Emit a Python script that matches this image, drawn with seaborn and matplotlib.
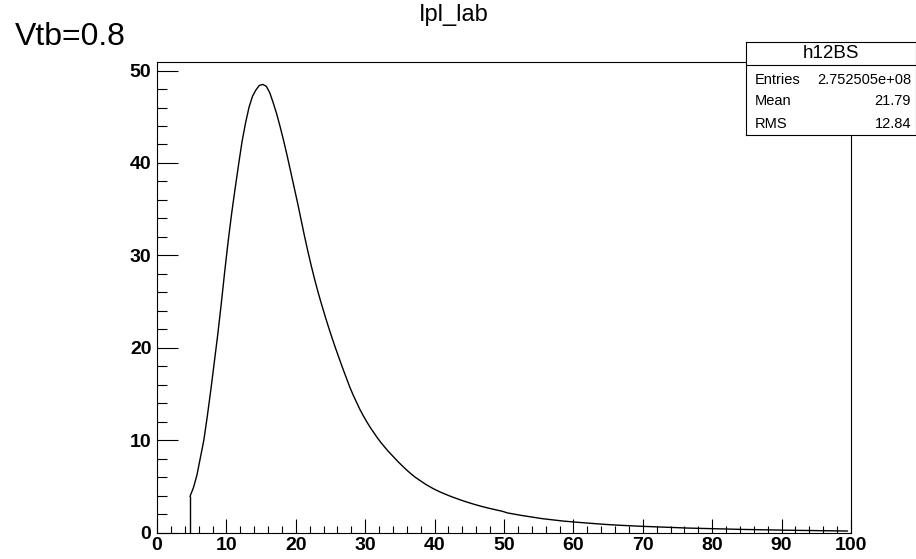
import numpy as np
import pandas as pd
import matplotlib
matplotlib.use('Agg')
import matplotlib.pyplot as plt
from matplotlib.ticker import MultipleLocator
import seaborn as sns

# histogram contents
# 0.5-wide bins from 4.5 to 50
fine_counts = [3.9, 4.85, 6.2, 8.1, 10.0, 12.6, 15.4, 18.4, 21.4, 24.7,
               28.2, 31.5, 34.5, 37.2, 39.8, 42.3, 44.3, 46.0, 47.2, 47.9,
               48.4, 48.5, 48.3, 47.6, 46.5, 45.3, 43.9, 42.4, 40.8, 39.1,
               37.4, 35.7, 33.9, 32.1, 30.4, 28.8, 27.3, 25.9, 24.6, 23.35,
               22.15, 21.0, 19.9, 18.85, 17.8, 16.8, 15.8, 14.9, 14.1, 13.3,
               12.6, 11.95, 11.35, 10.8, 10.25, 9.75, 9.3, 8.85, 8.45, 8.05,
               7.65, 7.28, 6.92, 6.58, 6.26, 5.96, 5.7, 5.45, 5.2, 4.98,
               4.77, 4.58, 4.4, 4.24, 4.08, 3.93, 3.79, 3.65, 3.52, 3.39,
               3.27, 3.15, 3.04, 2.93, 2.83, 2.73, 2.64, 2.55, 2.46, 2.38,
               2.3]
# 1-wide bins from 50 to 100
tail_counts = [2.12, 1.98, 1.85, 1.73, 1.61, 1.50, 1.41, 1.32, 1.24, 1.17,
               1.11, 1.05, 0.99, 0.93, 0.88, 0.83, 0.79, 0.75, 0.71, 0.68,
               0.65, 0.62, 0.59, 0.56, 0.53, 0.51, 0.48, 0.46, 0.44, 0.42,
               0.40, 0.38, 0.37, 0.35, 0.33, 0.32, 0.30, 0.29, 0.28, 0.26,
               0.25, 0.24, 0.23, 0.22, 0.21, 0.20, 0.19, 0.18, 0.17, 0.16]

title = 'Ipl_lab'
label = 'Vtb=0.8'
stats_name = 'h12BS'
stats_rows = [('Entries', '2.752505e+08'), ('Mean', '21.79'), ('RMS', '12.84')]

sns.set_theme(style='white')
plt.rcParams['font.family'] = ['Liberation Sans', 'DejaVu Sans']
plt.rcParams['text.color'] = 'black'

fine_edges = 4.5 + 0.5 * np.arange(len(fine_counts) + 1)
tail_edges = 50.0 + np.arange(len(tail_counts) + 1)
edges = np.concatenate([fine_edges, tail_edges[1:]])
counts = np.array(fine_counts + tail_counts)
centers = 0.5 * (edges[:-1] + edges[1:])
df = pd.DataFrame({'x': centers, 'w': counts})

fig = plt.figure(figsize=(9.16, 5.59), dpi=100)
ax = fig.add_axes([157 / 916, 1 - 532.5 / 559, 694 / 916, 470.5 / 559])

sns.histplot(data=df, x='x', weights='w', bins=list(edges), element='poly',
             fill=False, color='black', linewidth=1.0, ax=ax)
# rising edge of the first filled bin
ax.vlines(centers[0], 0, counts[0], color='black', linewidth=1.0)

ax.set_xlim(0, 100)
ax.set_ylim(0, 50.93)
ax.set_xlabel('')
ax.set_ylabel('')
for s in ax.spines.values():
    s.set_visible(True)
    s.set_color('black')
    s.set_linewidth(0.8)

ax.xaxis.set_major_locator(MultipleLocator(10))
ax.xaxis.set_minor_locator(MultipleLocator(2))
ax.yaxis.set_major_locator(MultipleLocator(10))
ax.yaxis.set_minor_locator(MultipleLocator(2))
ax.tick_params(axis='both', which='both', direction='in', color='black',
               width=0.8, labelsize=14, labelcolor='black',
               bottom=True, left=True, top=False, right=False)
ax.tick_params(axis='x', which='major', length=10, pad=3)
ax.tick_params(axis='x', which='minor', length=5)
ax.tick_params(axis='y', which='major', length=15, pad=4)
ax.tick_params(axis='y', which='minor', length=7.5)
for t in ax.get_xticklabels() + ax.get_yticklabels():
    t.set_fontweight('bold')

fig.text(0.4956, 1 - 21 / 559, title, ha='center', va='baseline', fontsize=17)
fig.text(15 / 916, 1 - 45 / 559, label, ha='left', va='baseline', fontsize=23)

# stats box
box = fig.add_axes([746 / 916, 1 - 135 / 559, 170 / 916, 93 / 559])
box.set_facecolor('white')
box.set_xticks([])
box.set_yticks([])
box.set_xlim(0, 1)
box.set_ylim(0, 1)
for s in box.spines.values():
    s.set_color('black')
    s.set_linewidth(0.8)
box.axhline(0.758, color='black', linewidth=0.8)
box.text(0.5, 0.871, stats_name, ha='center', va='center', fontsize=13.5)
row_y = [0.591, 0.366, 0.118]
for (name, val), yy in zip(stats_rows, row_y):
    box.text(0.053, yy, name, ha='left', va='center', fontsize=10.5)
    box.text(0.97, yy, val, ha='right', va='center', fontsize=10.5)

fig.savefig('out.png', dpi=100, facecolor='white')
